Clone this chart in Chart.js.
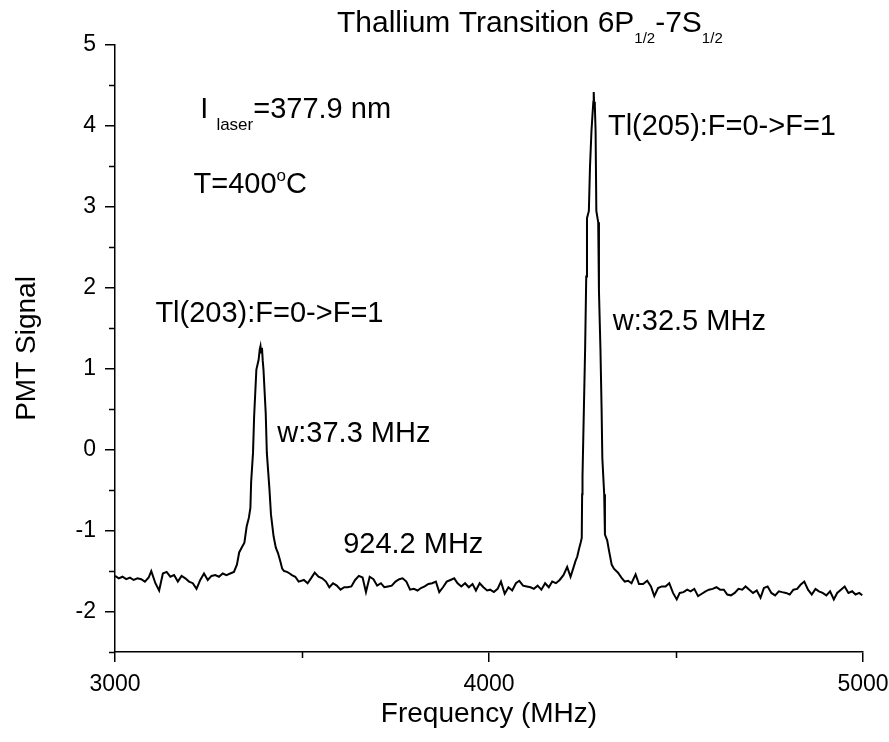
<!DOCTYPE html>
<html>
<head>
<meta charset="utf-8">
<script src="https://cdn.jsdelivr.net/npm/chart.js@4.4.0/dist/chart.umd.min.js"></script>
<style>
  html, body { margin: 0; padding: 0; background: #fff; }
</style>
</head>
<body>
<canvas id="chart" width="889" height="742"></canvas>
<script>
// --- DATA ---
const freqMHz = [
  3000, 3010, 3020, 3030, 3040, 3050, 3060, 3070, 3080, 3090, 3097, 3108, 3118, 3128, 3138, 3148,
  3158, 3168, 3178, 3188, 3198, 3208, 3218, 3228, 3238, 3248, 3258, 3268, 3278, 3288, 3298, 3308, 3318,
  3326, 3332, 3340, 3346, 3352, 3358, 3362, 3364, 3369, 3372, 3378, 3384, 3387, 3389, 3391, 3393, 3395,
  3397, 3403, 3406, 3413, 3417, 3424, 3430, 3436, 3442, 3447, 3452, 3460, 3467, 3473, 3482, 3491,
  3505, 3515, 3524, 3534, 3544, 3554, 3564, 3573, 3583, 3593, 3603, 3613, 3622, 3632, 3642, 3652,
  3662, 3671, 3681, 3691, 3701, 3711, 3720, 3730, 3740, 3750, 3760, 3769, 3779, 3789, 3799, 3809,
  3818, 3828, 3838, 3848, 3858, 3867, 3877, 3887, 3897, 3907, 3916, 3926, 3936, 3946, 3956, 3965,
  3975, 3985, 3995,
  4003, 4013, 4023, 4032, 4042, 4052, 4062, 4072, 4081, 4091, 4101, 4111, 4120, 4130, 4140, 4150,
  4160, 4169, 4179, 4189, 4199, 4209, 4218, 4225, 4231, 4236, 4241, 4245, 4248,
  4249, 4250, 4253, 4257, 4260, 4262, 4267, 4270, 4274, 4277, 4279, 4280, 4281, 4283, 4285, 4287,
  4292, 4294, 4298, 4301, 4303, 4308, 4310, 4316, 4321, 4328, 4334, 4345, 4354, 4363, 4372, 4381,
  4392, 4401, 4412, 4423, 4433, 4442, 4452, 4462, 4472, 4482, 4492, 4502,
  4510, 4520, 4530, 4539, 4549, 4559, 4569, 4579, 4588, 4598, 4608, 4618, 4628, 4637, 4647, 4657,
  4667, 4677, 4686, 4696, 4706, 4716, 4726, 4735, 4745, 4755, 4765, 4775, 4784, 4794, 4804, 4814,
  4824, 4833, 4843, 4853, 4863, 4873, 4882, 4892, 4902, 4912, 4922, 4931, 4941, 4951, 4961, 4971,
  4980, 4990, 4998
];
const pmtSignal = [
  -1.56, -1.59, -1.57, -1.60, -1.58, -1.61, -1.59, -1.60, -1.63, -1.58, -1.50, -1.65, -1.74, -1.53, -1.51, -1.57,
  -1.55, -1.63, -1.56, -1.59, -1.63, -1.65, -1.72, -1.61, -1.53, -1.61, -1.56, -1.55, -1.57, -1.53, -1.55, -1.53, -1.51,
  -1.42, -1.27, -1.20, -1.15, -0.95, -0.84, -0.72, -0.40, -0.04, 0.41, 0.99, 1.11, 1.24, 1.28, 1.20, 1.26, 1.10,
  0.99, 0.45, -0.04, -0.49, -0.80, -1.07, -1.21, -1.28, -1.38, -1.47, -1.50, -1.51, -1.53, -1.55, -1.57, -1.63,
  -1.61, -1.65, -1.59, -1.52, -1.57, -1.59, -1.63, -1.70, -1.65, -1.68, -1.73, -1.70, -1.70, -1.69, -1.61, -1.56,
  -1.58, -1.76, -1.57, -1.60, -1.68, -1.65, -1.70, -1.69, -1.68, -1.63, -1.60, -1.59, -1.63, -1.73, -1.72, -1.74,
  -1.71, -1.69, -1.66, -1.65, -1.63, -1.76, -1.70, -1.63, -1.61, -1.59, -1.65, -1.69, -1.65, -1.70, -1.66, -1.74,
  -1.65, -1.70, -1.74,
  -1.73, -1.76, -1.72, -1.63, -1.78, -1.70, -1.74, -1.65, -1.62, -1.68, -1.69, -1.70, -1.72, -1.68, -1.73, -1.65,
  -1.70, -1.63, -1.65, -1.61, -1.55, -1.45, -1.57, -1.47, -1.38, -1.32, -1.22, -1.15, -1.09,
  -0.55, -0.33, 0.35, 1.24, 2.14, 2.86, 2.95, 3.49, 3.94, 4.16, 4.30, 4.42, 4.30, 4.25, 3.94, 2.95,
  2.81, 1.96, 1.24, 0.52, -0.10, -0.55, -1.05, -1.12, -1.25, -1.42, -1.47, -1.52, -1.58, -1.63, -1.62, -1.65,
  -1.54, -1.66, -1.66, -1.62, -1.69, -1.81, -1.71, -1.69, -1.69, -1.65, -1.77, -1.85,
  -1.77, -1.76, -1.73, -1.75, -1.72, -1.81, -1.78, -1.75, -1.73, -1.72, -1.70, -1.73, -1.73, -1.79, -1.80, -1.77,
  -1.72, -1.73, -1.69, -1.73, -1.77, -1.74, -1.83, -1.71, -1.69, -1.77, -1.80, -1.75, -1.76, -1.77, -1.79, -1.73,
  -1.72, -1.67, -1.63, -1.73, -1.79, -1.72, -1.75, -1.77, -1.80, -1.75, -1.85, -1.77, -1.73, -1.69, -1.77, -1.75,
  -1.79, -1.77, -1.80
];
const xTicks = [3000, 4000, 5000];
const xMinorTicks = [3500, 4500];
const yTicks = [-2, -1, 0, 1, 2, 3, 4, 5];
const yMinorTicks = [-2.5, -1.5, -0.5, 0.5, 1.5, 2.5, 3.5, 4.5];

// --- TEXTOS ---
const FONT = '"Liberation Sans", Arial, sans-serif';
const titleParts = [['Thallium Transition 6P', 30, 0], ['1/2', 15, 11], ['-7S', 30, 0], ['1/2', 15, 11]];
// anotaciones en coordenadas de datos: [frecuencia, señal, partes]
const notes = [
  [3228, 4.10, [['I ', 29, 0], ['laser', 17, 12], ['=377.9 nm', 29, 0]]],
  [3210, 3.17, [['T=400', 29, 0], ['o', 17, -12], ['C', 29, 0]]],
  [3108, 1.58, [['Tl(203):F=0->F=1', 29, 0]]],
  [3434, 0.10, [['w:37.3 MHz', 29, 0]]],
  [3610, -1.28, [['924.2 MHz', 29, 0]]],
  [4318, 3.89, [['Tl(205):F=0->F=1', 29, 0]]],
  [4331, 1.48, [['w:32.5 MHz', 29, 0]]]
];

function drawRich(ctx, x, y, parts) {
  parts.forEach(p => {
    ctx.font = p[1] + 'px ' + FONT;
    ctx.fillText(p[0], x, y + p[2]);
    x += ctx.measureText(p[0]).width;
  });
}

const extrasPlugin = {
  id: 'extras',
  afterDraw(chart) {
    const { ctx, chartArea, scales } = chart;
    ctx.save();
    // ticks menores
    ctx.strokeStyle = '#000';
    ctx.lineWidth = 1.5;
    ctx.beginPath();
    yMinorTicks.forEach(v => {
      const py = Math.round(scales.y.getPixelForValue(v)) + 0.5;
      ctx.moveTo(chartArea.left - 6, py);
      ctx.lineTo(chartArea.left, py);
    });
    xMinorTicks.forEach(v => {
      const px = Math.round(scales.x.getPixelForValue(v)) + 0.5;
      ctx.moveTo(px, chartArea.bottom);
      ctx.lineTo(px, chartArea.bottom + 6);
    });
    ctx.stroke();

    ctx.fillStyle = '#000';
    ctx.textBaseline = 'alphabetic';
    ctx.textAlign = 'left';
    drawRich(ctx, 337, 32, titleParts);
    notes.forEach(n => {
      drawRich(ctx, scales.x.getPixelForValue(n[0]), scales.y.getPixelForValue(n[1]), n[2]);
    });
    ctx.restore();
  }
};

new Chart(document.getElementById('chart'), {
  type: 'line',
  data: {
    datasets: [{
      data: freqMHz.map((f, i) => ({ x: f, y: pmtSignal[i] })),
      borderColor: '#000',
      borderWidth: 2,
      pointRadius: 0,
      tension: 0,
      fill: false
    }]
  },
  options: {
    responsive: false,
    animation: false,
    layout: { padding: { left: 0, right: 26, top: 45, bottom: 0 } },
    plugins: { legend: { display: false }, tooltip: { enabled: false } },
    scales: {
      x: {
        type: 'linear', min: 3000, max: 5000,
        afterBuildTicks: s => { s.ticks = xTicks.map(v => ({ value: v })); },
        afterFit: s => { s.height = 90; s.paddingLeft = 0; s.paddingRight = 0; },
        grid: { drawOnChartArea: false, color: '#000', lineWidth: 1.5, tickLength: 10 },
        border: { color: '#000', width: 1.5 },
        ticks: { color: '#000', font: { family: FONT, size: 23 }, padding: 9, maxRotation: 0, callback: v => String(v) },
        title: { display: true, text: 'Frequency (MHz)', color: '#000', font: { family: FONT, size: 28 }, padding: { top: 0, bottom: 11 } }
      },
      y: {
        type: 'linear', min: -2.5, max: 5,
        afterBuildTicks: s => { s.ticks = yTicks.map(v => ({ value: v })); },
        afterFit: s => { s.width = 115; s.paddingTop = 0; s.paddingBottom = 0; },
        grid: { drawOnChartArea: false, color: '#000', lineWidth: 1.5, tickLength: 10 },
        border: { color: '#000', width: 1.5 },
        ticks: { color: '#000', font: { family: FONT, size: 23 }, padding: 9, callback: v => String(v) },
        title: { display: true, text: 'PMT Signal', color: '#000', font: { family: FONT, size: 28 }, padding: { top: 10, bottom: 0 } }
      }
    }
  },
  plugins: [extrasPlugin]
});
</script>
</body>
</html>
